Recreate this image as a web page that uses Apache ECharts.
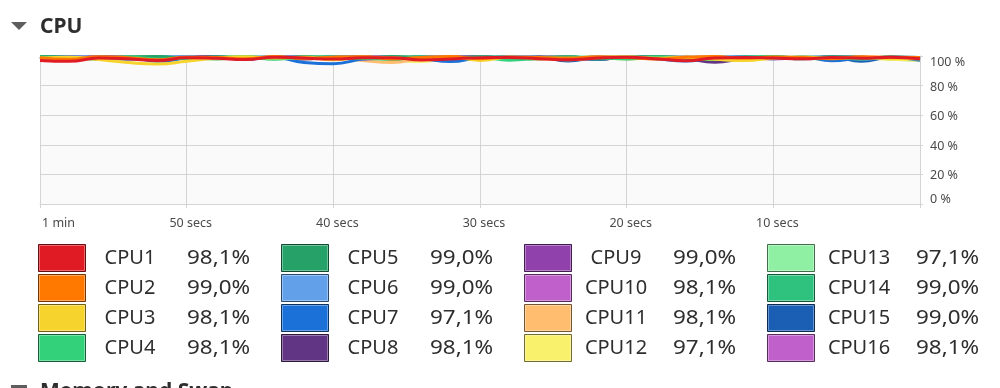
<!DOCTYPE html>
<html>
<head>
<meta charset="utf-8">
<script src="https://cdn.jsdelivr.net/npm/echarts@6/dist/echarts.min.js"></script>
<style>
html,body{margin:0;padding:0;background:#ffffff;}
#chart{width:1000px;height:388px;}
</style>
</head>
<body>
<div id="chart"></div>
<script>
// ---- data ----
const cpuNames = ['CPU1','CPU2','CPU3','CPU4','CPU5','CPU6','CPU7','CPU8','CPU9','CPU10','CPU11','CPU12','CPU13','CPU14','CPU15','CPU16'];
const cpuColors = ['#e01b24','#ff7800','#f6d32d','#33d17a','#26a269','#62a0ea','#1c71d8','#613583','#9141ac','#c061cb','#ffbe6f','#f9f06b','#8ff0a4','#2ec27e','#1a5fb4','#c061cb'];
const currentValues = ['98,1%','99,0%','98,1%','98,1%','99,0%','99,0%','97,1%','98,1%','99,0%','98,1%','98,1%','97,1%','97,1%','99,0%','99,0%','98,1%'];
const secondsAgo = [60,58,56,54,52,50,48,46,44,42,40,38,36,34,32,30,28,26,24,22,20,18,16,14,12,10,8,6,4,2,0];
const xTickLabels = {60:'1 min',50:'50 secs',40:'40 secs',30:'30 secs',20:'20 secs',10:'10 secs',0:''};

const cpu1  = [97.0,96.4,98.6,98.1,96.9,98.8,98.4,97.6,99.2,98.6,97.9,98.8,98.9,97.3,98.0,98.9,99.0,98.2,97.4,98.6,99.1,98.2,96.8,98.7,99.0,98.6,98.1,99.0,98.5,99.2,98.1];
const cpu2  = [98.9,97.8,99.5,98.9,97.5,99.2,99.0,98.1,99.6,98.4,99.2,99.5,98.0,99.0,99.6,98.2,99.3,99.0,98.6,99.5,99.0,97.9,99.2,99.6,98.5,99.3,99.0,98.2,99.5,99.1,99.0];
const cpu3  = [98.4,99.2,97.6,95.6,94.6,96.4,98.6,99.5,98.6,99.2,97.4,99.3,98.8,98.0,99.4,97.0,99.1,98.6,97.5,99.0,99.5,98.4,99.1,97.8,96.9,98.7,99.3,98.5,99.0,98.2,98.1];
const cpu4  = [99.4,98.2,98.6,99.4,97.8,98.5,99.2,99.6,98.0,99.0,99.4,98.4,97.8,99.3,98.5,99.1,97.2,98.4,99.4,99.0,98.0,99.3,98.6,97.6,99.1,99.6,98.4,99.0,97.9,99.3,98.1];
const cpu5  = [99.6,99.0,98.0,99.3,99.6,98.4,99.4,99.0,98.2,99.5,99.1,98.3,99.6,99.3,98.4,99.5,99.0,98.2,99.4,97.9,99.1,99.6,99.0,98.3,99.4,99.1,98.1,99.5,99.2,98.5,99.0];
const cpu6  = [99.6,99.1,99.3,97.6,99.2,99.6,98.2,99.2,99.5,98.4,99.4,99.1,97.9,99.5,99.2,98.4,99.6,99.0,97.8,99.3,99.1,99.5,98.2,99.2,99.6,98.4,99.1,99.4,97.9,99.2,99.0];
const cpu7  = [98.6,99.3,98.2,99.0,96.4,98.4,99.2,97.8,99.0,95.6,94.8,97.9,99.1,98.3,96.2,98.8,99.3,98.4,99.0,97.8,99.2,98.1,96.6,98.8,99.1,98.3,99.3,96.8,98.6,99.0,97.1];
const cpu8  = [99.2,98.4,99.4,99.0,98.0,99.3,99.5,98.4,99.1,97.9,99.3,99.0,98.3,99.4,99.1,98.1,99.0,99.4,98.5,97.8,99.3,99.0,98.2,95.8,98.2,99.3,98.6,99.1,98.2,99.4,98.1];
const cpu9  = [99.4,98.5,99.6,99.1,98.2,99.5,99.0,97.9,99.4,99.1,98.4,99.6,99.0,98.0,99.3,99.5,98.4,99.1,99.4,98.2,99.0,99.5,99.1,98.1,99.4,99.0,98.3,99.5,99.1,98.4,99.0];
const cpu10 = [98.3,99.3,98.6,97.8,99.1,98.2,99.4,98.0,99.0,98.5,99.3,97.9,99.1,98.3,99.4,98.0,99.0,98.6,97.8,99.3,98.2,99.1,97.9,99.0,98.5,99.3,98.1,99.0,98.4,99.1,98.1];
const cpu11 = [99.1,98.0,99.3,98.6,97.8,99.1,99.0,98.3,99.4,98.1,99.0,97.0,95.6,98.2,99.1,98.6,99.3,97.8,99.0,98.4,99.2,98.0,99.0,96.3,98.4,99.3,98.6,98.0,99.2,98.4,98.1];
const cpu12 = [98.6,99.2,98.1,99.0,98.3,99.3,97.9,99.0,98.6,99.4,98.0,99.0,97.6,96.2,98.7,99.2,98.1,99.0,98.4,99.3,98.0,98.7,99.2,98.1,97.0,98.5,99.0,98.0,98.7,97.8,97.1];
const cpu13 = [99.3,98.3,99.0,99.4,98.0,99.2,98.6,99.3,98.0,99.0,99.4,98.3,99.2,98.6,99.3,98.0,99.0,99.4,98.2,99.2,98.6,99.3,98.0,99.0,98.4,99.2,98.6,97.9,99.0,97.8,97.1];
const cpu14 = [99.5,99.0,98.2,99.3,99.6,99.0,98.0,99.4,99.1,98.4,99.5,99.0,98.2,99.3,99.0,99.5,98.4,99.1,99.6,98.2,99.0,99.3,98.5,99.4,99.1,98.2,99.3,99.0,98.4,99.4,99.0];
const cpu15 = [99.1,99.5,99.0,98.2,99.3,99.0,99.4,98.4,99.1,99.5,98.2,99.3,99.0,97.9,99.1,99.4,98.4,99.3,96.6,99.0,99.4,98.3,99.1,99.0,98.2,99.3,99.0,99.4,96.4,99.1,99.0];
const cpu16 = [98.5,99.2,98.6,99.3,98.0,99.0,98.4,99.4,98.5,99.2,97.9,99.0,99.3,98.2,99.0,97.9,99.2,98.6,99.3,98.0,99.0,98.4,99.2,98.6,99.3,97.9,99.0,98.2,99.2,98.6,98.1];
const cpuValues = [cpu1,cpu2,cpu3,cpu4,cpu5,cpu6,cpu7,cpu8,cpu9,cpu10,cpu11,cpu12,cpu13,cpu14,cpu15,cpu16];

// ---- helpers (style only) ----
function shade(hex, f){
  const n = parseInt(hex.slice(1),16);
  let r=(n>>16)&255,g=(n>>8)&255,b=n&255;
  if(f<0){r=Math.round(r*(1+f));g=Math.round(g*(1+f));b=Math.round(b*(1+f));}
  else {r=Math.round(r+(255-r)*f);g=Math.round(g+(255-g)*f);b=Math.round(b+(255-b)*f);}
  return 'rgb('+r+','+g+','+b+')';
}

const chart = echarts.init(document.getElementById('chart'), null, {renderer:'canvas'});

const series = [];
for (let i = cpuNames.length - 1; i >= 0; i--) {
  series.push({
    name: cpuNames[i],
    type: 'line',
    smooth: 0.5,
    showSymbol: false,
    silent: true,
    clip: false,
    lineStyle: {color: cpuColors[i], width: 3},
    itemStyle: {color: cpuColors[i]},
    data: secondsAgo.map((s, k) => [s, cpuValues[i][k]])
  });
}

const FONT = '"Noto Sans", "Open Sans", sans-serif';
const graphics = [];
graphics.push({type:'polygon', shape:{points:[[11,22],[27,22],[19,30]]}, style:{fill:'#5e5e5e'}});
graphics.push({type:'text', left:40, top:17, style:{text:'CPU', font:'bold 21px ' + FONT, fill:'#2e2e2e'}});
graphics.push({type:'rect', shape:{x:11,y:385,width:16,height:4}, style:{fill:'#5e5e5e'}});
graphics.push({type:'text', left:40, top:382, style:{text:'Memory and Swap', font:'bold 21px ' + FONT, fill:'#2e2e2e'}});

cpuNames.forEach((name, i) => {
  const col = Math.floor(i / 4), row = i % 4;
  const x = 38 + col * 243, y = 244 + row * 30;
  graphics.push({type:'rect', shape:{x:x+0.5, y:y+0.5, width:47, height:27}, style:{fill:cpuColors[i], stroke:shade(cpuColors[i],-0.55), lineWidth:1}});
  graphics.push({type:'rect', shape:{x:x+1.5, y:y+1.5, width:45, height:25}, style:{fill:'none', stroke:shade(cpuColors[i],0.35), lineWidth:1}});
  graphics.push({type:'text', x:x+92, y:y+14, style:{text:name, font:'20px ' + FONT, fill:'#2e2e2e', align:'center', verticalAlign:'middle'}});
  graphics.push({type:'text', x:x+149, y:y+14, scaleX:1.12, scaleY:1, originX:0, originY:0, style:{text:currentValues[i], font:'20px ' + FONT, fill:'#2e2e2e', align:'left', verticalAlign:'middle'}});
});

const gridColor = '#d4d4d4';
const labelColor = '#4a4a4a';
chart.setOption({
  backgroundColor: '#ffffff',
  animation: false,
  textStyle: {fontFamily: FONT},
  grid: {left: 40, right: 80, top: 56, bottom: 184, show: true, backgroundColor: '#fafafa', borderWidth: 0},
  xAxis: {
    type: 'value', min: 0, max: 60, interval: 10, inverse: true,
    axisLine: {show: true, lineStyle: {color: gridColor}},
    axisTick: {show: true, length: 4, lineStyle: {color: gridColor}},
    splitLine: {show: true, lineStyle: {color: gridColor, width: 1}},
    axisLabel: {
      color: labelColor, fontSize: 12.5, margin: 13,
      formatter: v => v === 60 ? '{a|' + xTickLabels[v] + '}' : (xTickLabels[v] ? '{b|' + xTickLabels[v] + '}' : ''),
      rich: {a: {padding: [0,0,0,37], fontSize: 12.5, color: labelColor}, b: {padding: [0,0,0,8], fontSize: 12.5, color: labelColor}}
    }
  },
  yAxis: {
    type: 'value', min: 0, max: 100, interval: 20, position: 'right',
    axisLine: {show: true, lineStyle: {color: gridColor}},
    axisTick: {show: true, length: 3, lineStyle: {color: gridColor}},
    splitLine: {show: true, lineStyle: {color: gridColor, width: 1}},
    axisLabel: {
      color: labelColor, fontSize: 12.5, margin: 10,
      formatter: v => v === 100 ? '{t|' + v + ' %}' : (v === 0 ? '{z|' + v + ' %}' : '{m|' + v + ' %}'),
      rich: {
        t: {padding: [13,0,0,0], fontSize: 12.5, color: labelColor},
        z: {padding: [0,0,10,0], fontSize: 12.5, color: labelColor},
        m: {padding: [3,0,0,0], fontSize: 12.5, color: labelColor}
      }
    }
  },
  series: series,
  graphic: graphics
});
</script>
</body>
</html>
